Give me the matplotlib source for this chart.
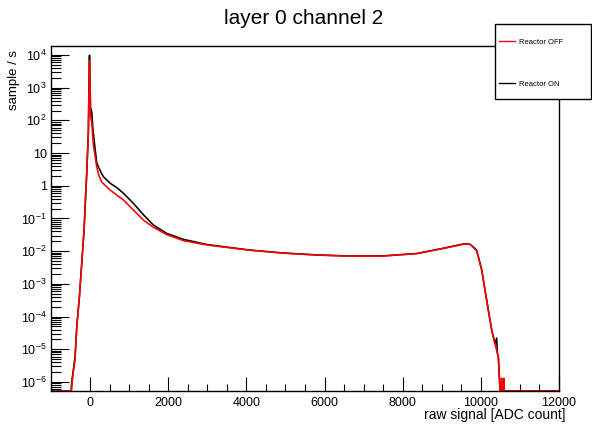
import numpy as np
import matplotlib
matplotlib.use('agg')

from matplotlib import pyplot as plt
from matplotlib.lines import Line2D
from matplotlib.patches import Rectangle
from matplotlib.ticker import FixedLocator, NullFormatter, FuncFormatter

plt.rcParams['font.family'] = ['Liberation Sans', 'DejaVu Sans']
plt.rcParams['mathtext.default'] = 'regular'

TITLE = 'layer 0 channel 2'
XLABEL = 'raw signal [ADC count]'
YLABEL = 'sample / s'
LABEL_OFF = 'Reactor OFF'
LABEL_ON = 'Reactor ON'

# rate per ADC bin (0 = empty bin, drawn on the bottom edge like ROOT does)
adc_on = [-1000, -485, -470, -384, -341, -273, -213, -154, -120, -85, -43, -30,
          -15, 0, 5, 15, 25, 45, 70, 110, 170, 213, 300, 341, 512, 700, 853,
          1109, 1365, 1620, 1962, 2388, 2985, 3838, 4094, 4947, 5800, 6653,
          7506, 8359, 9041, 9553, 9638, 9723, 9808, 9893, 9936, 10022, 10107,
          10192, 10278, 10363, 10406, 10420, 10448, 10474, 10491, 12000]
rate_on = [0, 0, 1.0e-6, 5.9e-6, 4.9e-5, 4.1e-4, 4.3e-3, 4.5e-2, 0.35, 2.5, 50,
           800, 9800, 1100, 700, 160, 220, 170, 60, 21, 5.1, 3.8, 2.3, 1.9, 1.2,
           0.85, 0.59, 0.29, 0.13, 0.063, 0.035, 0.023, 0.016, 0.0118, 0.0108,
           0.0088, 0.0077, 0.0071, 0.0072, 0.0085, 0.0123, 0.0166, 0.0168,
           0.0162, 0.0135, 0.0105, 0.0068, 0.0027, 6.5e-4, 1.6e-4, 3.9e-5,
           1.5e-5, 2.2e-5, 8e-6, 5.9e-6, 1.4e-6, 0, 0]

adc_off = [-1000, -475, -460, -384, -341, -273, -213, -154, -120, -85, -43, -30,
           -15, 0, 10, 25, 43, 85, 130, 170, 230, 298, 512, 700, 853, 1109,
           1365, 1620, 1962, 2388, 2985, 3838, 4094, 4947, 5800, 6653, 7506,
           8359, 9041, 9553, 9638, 9723, 9808, 9893, 9936, 10022, 10107, 10192,
           10278, 10363, 10380, 10448, 10474, 10491, 10520, 10530, 10545, 10560,
           10575, 10590, 10600, 12000]
rate_off = [0, 0, 1.0e-6, 5.0e-6, 4.5e-5, 4.0e-4, 4.2e-3, 4.3e-2, 0.33, 2.4, 45,
            600, 6600, 900, 135, 110, 85, 17, 8.0, 3.8, 2.0, 1.3, 0.74, 0.5,
            0.37, 0.18, 0.089, 0.054, 0.032, 0.021, 0.0155, 0.0116, 0.0107,
            0.0087, 0.0076, 0.0070, 0.0071, 0.0084, 0.0121, 0.0163, 0.0165,
            0.0160, 0.0130, 0.0102, 0.0066, 0.0026, 6.3e-4, 1.5e-4, 3.8e-5,
            1.4e-5, 1.2e-5, 5.9e-6, 1.4e-6, 0, 0, 1.3e-6, 0, 1.2e-6, 0, 1.3e-6,
            0, 0]

XMIN, XMAX = -1000, 12000
YMIN, YMAX = 5.3e-7, 1.88e4

W, H = 592, 424


def fig_xy(px: float, py: float) -> tuple[float, float]:
    return px / W, 1 - py / H


def log_label(v, _pos):
    e = int(round(np.log10(v)))
    if e == 0:
        return '1'
    if e == 1:
        return '10'
    return f'$10^{{{e}}}$'


fig = plt.figure(figsize=(W / 100, H / 100), dpi=100)
ax = fig.add_axes([51 / W, 1 - 391 / H, 508 / W, 345 / H])

ax.set_yscale('log')
ax.set_xlim(XMIN, XMAX)
ax.set_ylim(YMIN, YMAX)

on = np.where(np.array(rate_on) > 0, rate_on, YMIN)
off = np.where(np.array(rate_off) > 0, rate_off, YMIN)
ax.plot(adc_on, on, color='black', lw=1.15)
ax.plot(adc_off, off, color='#ff0000', lw=1.15)

decades = np.arange(-7, 5)
major_y = [10.0 ** e for e in decades if YMIN <= 10.0 ** e <= YMAX]
minor_y = [m * 10.0 ** e for e in decades for m in range(2, 10)
           if YMIN <= m * 10.0 ** e <= YMAX]

ax.xaxis.set_major_locator(FixedLocator(np.arange(0, 12001, 2000)))
ax.xaxis.set_minor_locator(FixedLocator(np.arange(-1000, 12001, 500)))
ax.yaxis.set_major_locator(FixedLocator(major_y))
ax.yaxis.set_minor_locator(FixedLocator(minor_y))
ax.yaxis.set_major_formatter(FuncFormatter(log_label))
ax.yaxis.set_minor_formatter(NullFormatter())

ax.tick_params(which='both', direction='in', top=False, right=False,
               labelsize=9, width=0.8, color='black')
ax.tick_params(axis='x', which='major', length=10, pad=4)
ax.tick_params(axis='x', which='minor', length=5)
ax.tick_params(axis='y', which='major', length=13, pad=3)
ax.tick_params(axis='y', which='minor', length=7)
for s in ax.spines.values():
    s.set_linewidth(1.0)

fig.text(*fig_xy(304, 18), TITLE, ha='center', va='center', fontsize=15)
fig.text(*fig_xy(565, 415), XLABEL, ha='right', va='center', fontsize=10)
fig.text(*fig_xy(14, 50), YLABEL, ha='center', va='top', rotation=90, fontsize=9.5)

# legend box drawn by hand (ROOT TLegend look)
x0, y0 = fig_xy(495, 99)
x1, y1 = fig_xy(591, 24)
fig.add_artist(Rectangle((x0, y0), x1 - x0, y1 - y0, transform=fig.transFigure,
                         facecolor='white', edgecolor='black', lw=1.0, zorder=5))
for py, color, label in [(41, '#ff0000', LABEL_OFF), (83, 'black', LABEL_ON)]:
    lx0, ly = fig_xy(499, py)
    lx1, _ = fig_xy(515, py)
    fig.add_artist(Line2D([lx0, lx1], [ly, ly], color=color, lw=1.0,
                          transform=fig.transFigure, zorder=6))
    fig.text(*fig_xy(519, py + 2), label, ha='left', va='center', fontsize=5.5, zorder=6)

fig.savefig('out.png', dpi=100)
plt.close(fig)
